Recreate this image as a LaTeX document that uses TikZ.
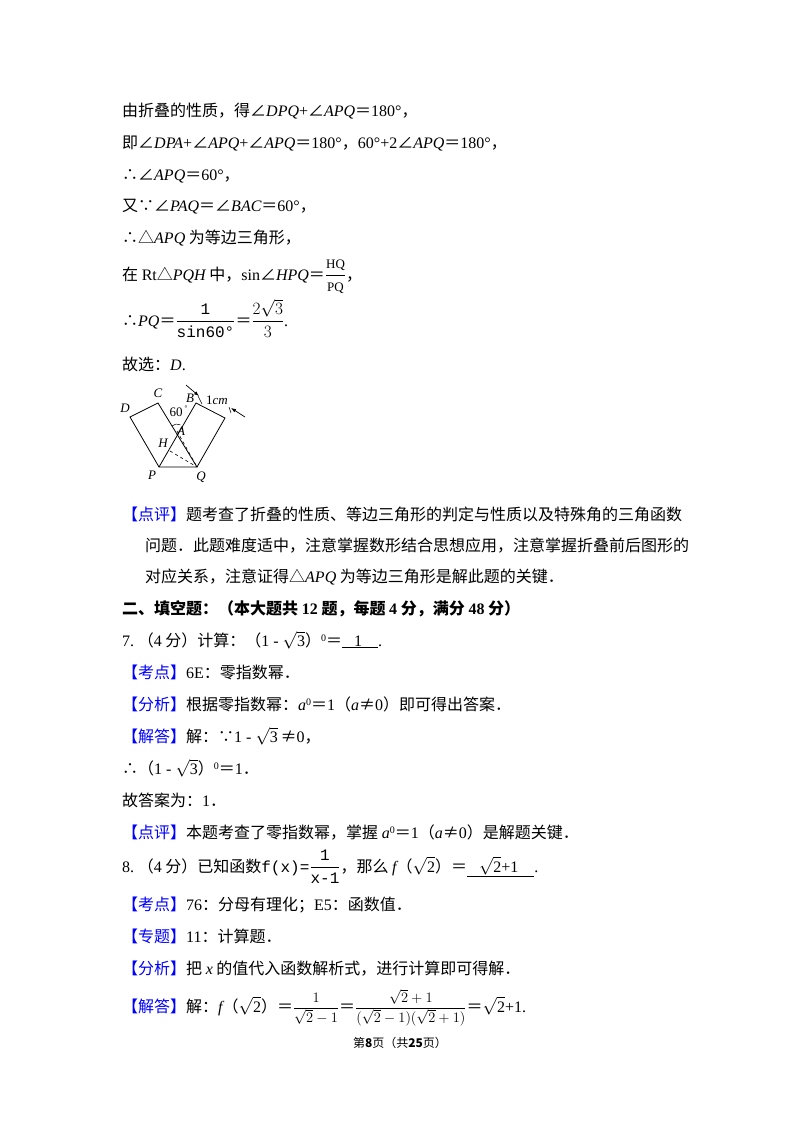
\documentclass[tikz,border=0pt]{standalone}
\usepackage{fontspec}
\usetikzlibrary{calc,arrows.meta}
\setmainfont{Noto Sans CJK SC}
\newfontfamily\rmx{Liberation Serif}
\newfontfamily\ttx{Liberation Mono}
\newcommand\m[1]{{\rmx\itshape #1}}
\newcommand\n[1]{{\rmx #1}}
\newcommand\bl[1]{\textcolor{blue}{#1}}
\newcommand\eqq{＝}
\newcommand\sq[1]{$\sqrt{\textrm{\rmx #1}}$}
\newcommand\dfr[2]{$\displaystyle\frac{\textrm{#1}}{\textrm{#2}}$}
\begin{document}
\begin{tikzpicture}[x=1pt,y=-1pt,
 txt/.style={anchor=base west,inner sep=0pt,font=\fontsize{16}{20}\selectfont}]
\useasboundingbox (0,0) rectangle (800,1132);
\fill[white] (0,0) rectangle (800,1132);
\node[txt] (l1) at (122,116) {由折叠的性质，得∠\m{DPQ}\n{+}∠\m{APQ}\eqq\n{180°}，};
\node[txt] (l2) at (122,148) {即∠\m{DPA}\n{+}∠\m{APQ}\n{+}∠\m{APQ}\eqq\n{180°}，\n{60°+2}∠\m{APQ}\eqq\n{180°}，};
\node[txt] (l3) at (122,180) {∴∠\m{APQ}\eqq\n{60°}，};
\node[txt] (l4) at (122,211) {又∵∠\m{PAQ}\eqq∠\m{BAC}\eqq\n{60°}，};
\node[txt] (l5) at (122,243) {∴△\m{APQ} 为等边三角形，};
\node[txt] (l6) at (122,280) {在 \n{Rt}△\m{PQH} 中，\n{sin}∠\m{HPQ}\eqq\dfr{\rmx\fontsize{13}{14}\selectfont HQ}{\rmx\fontsize{13}{14}\selectfont PQ}，};
\node[txt] (l7) at (122,326) {∴\m{PQ}\eqq\dfr{\ttx 1}{\ttx sin60°}\eqq$\displaystyle\frac{2\sqrt{3}}{3}$\n{.}};
\node[txt] (l8) at (122,370) {故选：\m{D}\n{.}};
% figure
\coordinate (D) at (130,417);
\coordinate (C) at (158,403);
\coordinate (B) at (196,403);
\coordinate (R) at (225,418);
\coordinate (Q) at (197,467);
\coordinate (P) at (159,467);
\coordinate (A) at (177,431);
\coordinate (H) at (170,451);
\draw[line width=0.8pt] (D)--(C)--(Q)--(P)--cycle;
\draw[line width=0.8pt] (P)--(B)--(R)--(Q);
\draw[dashed,line width=0.6pt] (A)--(Q) (H)--(Q);
\draw[line width=0.5pt] ($(A)+(-5,-5)$) arc[start angle=225,end angle=300,radius=7];
\coordinate (a1) at (186,385); \coordinate (a2) at (199,396);
\draw[-{Latex[length=5pt]},line width=0.7pt] (a1)--(a2);
\coordinate (b1) at (245,417); \coordinate (b2) at (231,408);
\draw[-{Latex[length=5pt]},line width=0.7pt] (b1)--(b2);
\draw[line width=0.5pt] (198,396)--(202,404) (229,407)--(231,413);
\begin{scope}[every node/.style={inner sep=0pt,font=\rmx\itshape\fontsize{13}{14}\selectfont}]
\node (lD) at (125,408) {D};
\node (lC) at (158,393) {C};
\node (lB) at (190,398) {B};
\node (lcm) at (217,400) {\upshape 1\itshape cm};
\node (l60) at (176,412) {\upshape 60};
\node (ldeg) at (186,408) {\upshape\fontsize{7}{8}\selectfont °};
\node (lA) at (181,431) {A};
\node (lH) at (163,443) {H};
\node (lP) at (152,475) {P};
\node (lQ) at (201,477) {Q};
\end{scope}
\node[txt] (p1) at (122,520) {\bl{【点评】}题考查了折叠的性质、等边三角形的判定与性质以及特殊角的三角函数};
\node[txt] (p2) at (145,551) {问题．此题难度适中，注意掌握数形结合思想应用，注意掌握折叠前后图形的};
\node[txt] (p3) at (145,582) {对应关系，注意证得△\m{APQ} 为等边三角形是解此题的关键．};
\node[txt] (s2) at (122,614) {\bfseries 二、填空题：（本大题共 \n{12} 题，每题 \n{4} 分，满分 \n{48} 分）};
\node[txt] (q7) at (122,646) {\n{7.}\ （\n{4} 分）计算：（\n{1 - }\sq{3}）\raisebox{5pt}{\n{\fontsize{10}{10}\selectfont 0}}\eqq\underline{\n{\ \ \ 1\ \ \ \ }}\n{.}};
\node[txt] (k7) at (122,678) {\bl{【考点】}\n{6E}：零指数幂．};
\node[txt] (f7) at (122,710) {\bl{【分析】}根据零指数幂：\m{a}\raisebox{5pt}{\n{\fontsize{10}{10}\selectfont 0}}\eqq\n{1}（\m{a}≠\n{0}）即可得出答案．};
\node[txt] (j7) at (122,742) {\bl{【解答】}解：∵\n{1 - }\sq{3}\,≠\n{0}，};
\node[txt] (j7b) at (122,774) {∴（\n{1 - }\sq{3}）\raisebox{5pt}{\n{\fontsize{10}{10}\selectfont 0}}\eqq\n{1}．};
\node[txt] (g7) at (122,806) {故答案为：\n{1}．};
\node[txt] (d7) at (122,838) {\bl{【点评】}本题考查了零指数幂，掌握 \m{a}\raisebox{5pt}{\n{\fontsize{10}{10}\selectfont 0}}\eqq\n{1}（\m{a}≠\n{0}）是解题关键．};
\node[txt] (q8) at (122,872) {\n{8.}\ （\n{4} 分）已知函数{\ttx f(x)=}\dfr{\ttx 1}{\ttx x-1}，那么 \m{f}（\sq{2}）\eqq\underline{\n{\ \ \ }\sq{2}\n{+1\ \ \ \ }}\n{.}};
\node[txt] (k8) at (122,910) {\bl{【考点】}\n{76}：分母有理化；\n{E5}：函数值．};
\node[txt] (z8) at (122,942) {\bl{【专题】}\n{11}：计算题．};
\node[txt] (f8) at (122,974) {\bl{【分析】}把 \m{x} 的值代入函数解析式，进行计算即可得解．};
\node[txt] (j8) at (122,1012) {\bl{【解答】}解：\m{f}（\sq{2}）\eqq{\fontsize{14}{16}\selectfont$\displaystyle\frac{1}{\sqrt{2}-1}$}\eqq{\fontsize{14}{16}\selectfont$\displaystyle\frac{\sqrt{2}+1}{(\sqrt{2}-1)(\sqrt{2}+1)}$}\eqq\sq{2}\n{+1.}};
\node[inner sep=0pt,font=\fontsize{12}{14}\selectfont] (ft) at (400,1043) {第\textbf{8}页（共\textbf{25}页）};
\end{tikzpicture}
\end{document}
